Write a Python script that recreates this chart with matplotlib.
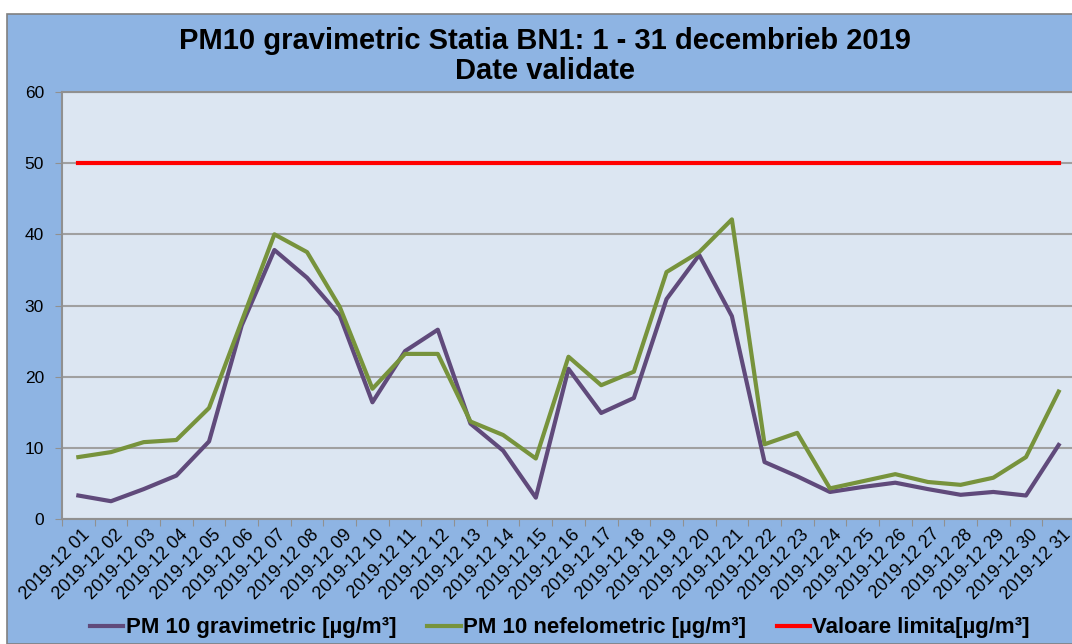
import matplotlib.pyplot as plt
import numpy as np
from matplotlib.patches import Rectangle

plt.rcParams['font.family'] = ['Liberation Sans', 'DejaVu Sans']

zile = ['2019-12 %02d' % d for d in range(1, 32)]

gravimetric = [3.3, 2.5, 4.2, 6.1, 10.9, 27.2, 37.8, 33.9, 28.6, 16.4, 23.6,
               26.6, 13.4, 9.6, 3.0, 21.1, 14.9, 17.0, 30.9, 37.1, 28.5,
               8.0, 6.0, 3.8, 4.5, 5.1, 4.2, 3.4, 3.8, 3.3, 10.4]
nefelometric = [8.7, 9.4, 10.8, 11.1, 15.6, 27.8, 40.0, 37.5, 29.8, 18.3, 23.2,
                23.2, 13.7, 11.8, 8.5, 22.8, 18.8, 20.7, 34.7, 37.5, 42.1,
                10.5, 12.1, 4.3, 5.3, 6.3, 5.2, 4.8, 5.8, 8.7, 17.9]
limita = [50] * 31

W, H = 1072, 644
fig = plt.figure(figsize=(W / 100, H / 100), dpi=100, facecolor='white')
fig.add_artist(Rectangle((7 / W, 0), 1, 1 - 14 / H, transform=fig.transFigure,
                         facecolor='#8EB4E3', edgecolor='#808080', lw=1.2, zorder=0))

ax = fig.add_axes([62 / W, (H - 519) / H, (1075 - 62) / W, (519 - 92) / H])
ax.set_facecolor('#DCE6F2')

x = np.arange(len(zile))
ax.plot(x, gravimetric, color='#604A7B', lw=3, label='PM 10 gravimetric [µg/m³]')
ax.plot(x, nefelometric, color='#77933C', lw=3, label='PM 10 nefelometric [µg/m³]')
ax.plot(x, limita, color='#FF0000', lw=3, label='Valoare limita[µg/m³]')

ax.set_xlim(-0.5, len(zile) - 0.5)
ax.set_ylim(0, 60)
ax.set_yticks(range(0, 61, 10))
ax.yaxis.grid(True, color='#A0A0A0', lw=1.5)
ax.set_axisbelow(True)
ax.set_xticks(np.arange(len(zile) + 1) - 0.5, minor=False)
ax.set_xticklabels([])
ax.set_xticks(x + 0.1, minor=True)
ax.set_xticklabels(zile, minor=True, rotation=45, ha='right', rotation_mode='anchor',
                   fontsize=13)
ax.tick_params(axis='x', which='minor', length=0, pad=5)
ax.tick_params(axis='x', which='major', length=5, color='#909090')
ax.tick_params(axis='y', length=5, color='#909090', labelsize=12.5, pad=8)
for s in ['left', 'bottom', 'top']:
    ax.spines[s].set_color('#909090')
    ax.spines[s].set_linewidth(1.5)
ax.spines['right'].set_visible(False)

fig.text(545 / W, 1 - 41 / H, 'PM10 gravimetric Statia BN1: 1 - 31 decembrieb 2019',
         ha='center', va='center', fontsize=21, fontweight='bold')
fig.text(545 / W, 1 - 71 / H, 'Date validate',
         ha='center', va='center', fontsize=21, fontweight='bold')

fig.legend(loc='center', bbox_to_anchor=(560 / W, 1 - 628 / H), ncol=3, frameon=False,
           prop={'size': 16, 'weight': 'bold'}, handlelength=1.5, handletextpad=0.1,
           columnspacing=1.4)

fig.savefig('out.png', dpi=100, facecolor=fig.get_facecolor())
